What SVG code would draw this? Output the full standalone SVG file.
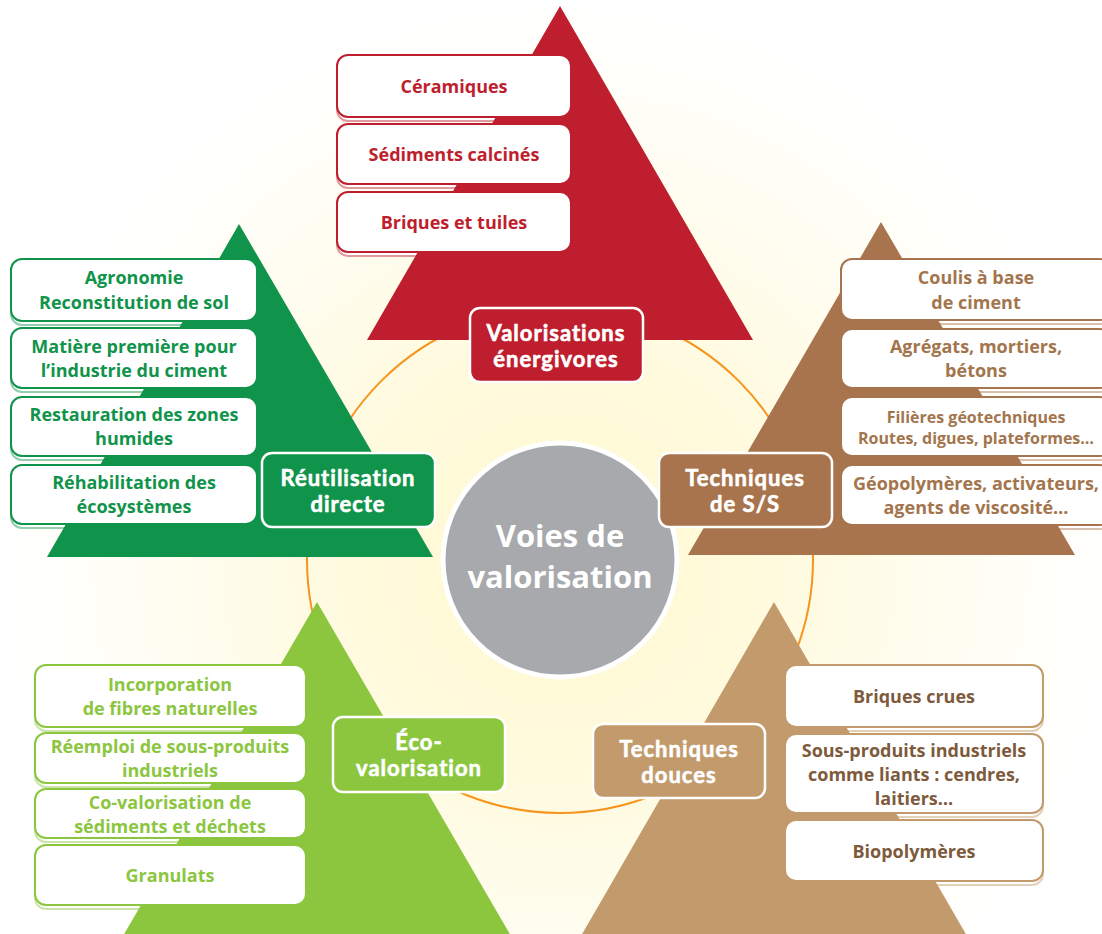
<svg xmlns="http://www.w3.org/2000/svg" width="1102" height="934" viewBox="0 0 1102 934">
<defs>
<radialGradient id="glow" cx="560" cy="560" r="560" gradientUnits="userSpaceOnUse">
<stop offset="0" stop-color="#FFF8CF"/>
<stop offset="0.35" stop-color="#FFFADC"/>
<stop offset="0.7" stop-color="#FFFDF1"/>
<stop offset="1" stop-color="#FFFFFF"/>
</radialGradient>
<style>
text{font-family:"Open Sans","Noto Sans","Liberation Sans",sans-serif;font-weight:700;text-anchor:middle}
.box{fill:#fff;stroke-width:2}
.shadow{fill:#fff;stroke-width:2;stroke-opacity:0.45}
.lbl{stroke:#fff;stroke-width:2.5}
.t{font-size:18px}
.ts{font-size:16px}
.lt{font-family:Lato,"Open Sans","Liberation Sans",sans-serif;font-size:22px;letter-spacing:1px;fill:#fff;stroke:#fff;stroke-width:0.6}
.red{stroke:#BE1E2D}.redf{fill:#BE1E2D}
.grn{stroke:#10934A}.grnf{fill:#10934A}
.brn{stroke:#A8744D}.brnf{fill:#A8744D}
.brnt{fill:#A3754D}
.lgr{stroke:#8CC63F}.lgrf{fill:#8CC63F}
.tan{stroke:#C29A6C}.tanf{fill:#C29A6C}
.tant{fill:#7E5A3C}
</style>
</defs>
<rect id="background" x="0" y="0" width="1102" height="934" fill="url(#glow)"/>
<g id="connectors">
<circle cx="560" cy="560" r="253" fill="none" stroke="#F7941D" stroke-width="2"/>
</g>
<g id="center">
<circle cx="560" cy="560" r="117" fill="#A7A9AC" stroke="#fff" stroke-width="5"/>
<text style="font-size:31px;fill:#fff"><tspan x="560" y="547">Voies de</tspan><tspan x="560" y="588">valorisation</tspan></text>
</g>
<g id="valorisations-energivores">
<rect class="shadow red" x="337" y="59" width="234" height="62" rx="11"/>
<rect class="shadow red" x="337" y="128" width="234" height="60" rx="11"/>
<rect class="shadow red" x="337" y="196" width="234" height="60" rx="11"/>
<polygon class="redf" points="560,6 753,340 367,340"/>
<g id="ceramiques"><rect class="box red" x="337" y="55" width="234" height="62" rx="11"/><text class="t redf" x="454" y="93">Céramiques</text></g>
<g id="sediments-calcines"><rect class="box red" x="337" y="124" width="234" height="60" rx="11"/><text class="t redf" x="454" y="161">Sédiments calcinés</text></g>
<g id="briques-tuiles"><rect class="box red" x="337" y="192" width="234" height="60" rx="11"/><text class="t redf" x="454" y="229">Briques et tuiles</text></g>
<g id="label-energivores"><rect class="lbl redf" x="470" y="308" width="173" height="74" rx="10"/><text class="lt"><tspan x="556" y="341">Valorisations</tspan><tspan x="556" y="367">énergivores</tspan></text></g>
</g>
<g id="reutilisation-directe">
<rect class="shadow grn" x="11" y="263" width="246" height="62" rx="11"/>
<rect class="shadow grn" x="11" y="332" width="246" height="60" rx="11"/>
<rect class="shadow grn" x="11" y="401" width="246" height="59" rx="11"/>
<rect class="shadow grn" x="11" y="469" width="246" height="59" rx="11"/>
<polygon class="grnf" points="239,224 433,557 47,557"/>
<g id="agronomie"><rect class="box grn" x="11" y="259" width="246" height="62" rx="11"/><text class="t grnf"><tspan x="134" y="284">Agronomie</tspan><tspan x="134" y="309">Reconstitution de sol</tspan></text></g>
<g id="matiere-premiere"><rect class="box grn" x="11" y="328" width="246" height="60" rx="11"/><text class="t grnf"><tspan x="134" y="353">Matière première pour</tspan><tspan x="134" y="377">l’industrie du ciment</tspan></text></g>
<g id="zones-humides"><rect class="box grn" x="11" y="397" width="246" height="59" rx="11"/><text class="t grnf"><tspan x="134" y="421">Restauration des zones</tspan><tspan x="134" y="445">humides</tspan></text></g>
<g id="ecosystemes"><rect class="box grn" x="11" y="465" width="246" height="59" rx="11"/><text class="t grnf"><tspan x="134" y="489">Réhabilitation des</tspan><tspan x="134" y="513">écosystèmes</tspan></text></g>
<g id="label-reutilisation"><rect class="lbl grnf" x="262" y="453" width="173" height="74" rx="10"/><text class="lt"><tspan x="348" y="486">Réutilisation</tspan><tspan x="348" y="512">directe</tspan></text></g>
</g>
<g id="techniques-ss">
<rect class="shadow brn" x="841" y="263" width="270" height="61" rx="11"/>
<rect class="shadow brn" x="841" y="333" width="270" height="59" rx="11"/>
<rect class="shadow brn" x="841" y="401" width="270" height="59" rx="11"/>
<rect class="shadow brn" x="841" y="469" width="270" height="60" rx="11"/>
<polygon class="brnf" points="881,222 1075,555 688,555"/>
<g id="coulis"><rect class="box brn" x="841" y="259" width="270" height="61" rx="11"/><text class="t brnt"><tspan x="976" y="284">Coulis à base</tspan><tspan x="976" y="309">de ciment</tspan></text></g>
<g id="agregats"><rect class="box brn" x="841" y="329" width="270" height="59" rx="11"/><text class="t brnt"><tspan x="976" y="353">Agrégats, mortiers,</tspan><tspan x="976" y="377">bétons</tspan></text></g>
<g id="filieres"><rect class="box brn" x="841" y="397" width="270" height="59" rx="11"/><text class="ts brnt"><tspan x="976" y="423">Filières géotechniques</tspan><tspan x="976" y="444">Routes, digues, plateformes…</tspan></text></g>
<g id="geopolymeres"><rect class="box brn" x="841" y="465" width="270" height="60" rx="11"/><text class="t brnt"><tspan x="976" y="490">Géopolymères, activateurs,</tspan><tspan x="976" y="514">agents de viscosité…</tspan></text></g>
<g id="label-ss"><rect class="lbl brnf" x="659" y="453" width="173" height="74" rx="10"/><text class="lt"><tspan x="745" y="486">Techniques</tspan><tspan x="745" y="512">de S/S</tspan></text></g>
</g>
<g id="eco-valorisation">
<rect class="shadow lgr" x="35" y="669" width="271" height="62" rx="11"/>
<rect class="shadow lgr" x="35" y="737" width="271" height="50" rx="11"/>
<rect class="shadow lgr" x="35" y="793" width="271" height="49" rx="11"/>
<rect class="shadow lgr" x="35" y="849" width="271" height="60" rx="11"/>
<polygon class="lgrf" points="317,602 511,936 123,936"/>
<g id="fibres"><rect class="box lgr" x="35" y="665" width="271" height="62" rx="11"/><text class="t lgrf"><tspan x="170" y="691">Incorporation</tspan><tspan x="170" y="715">de fibres naturelles</tspan></text></g>
<g id="reemploi"><rect class="box lgr" x="35" y="733" width="271" height="50" rx="11"/><text class="t lgrf"><tspan x="170" y="753">Réemploi de sous-produits</tspan><tspan x="170" y="777">industriels</tspan></text></g>
<g id="co-valorisation"><rect class="box lgr" x="35" y="789" width="271" height="49" rx="11"/><text class="t lgrf"><tspan x="170" y="809">Co-valorisation de</tspan><tspan x="170" y="833">sédiments et déchets</tspan></text></g>
<g id="granulats"><rect class="box lgr" x="35" y="845" width="271" height="60" rx="11"/><text class="t lgrf" x="170" y="882">Granulats</text></g>
<g id="label-eco"><rect class="lbl lgrf" x="333" y="717" width="172" height="75" rx="10"/><text class="lt"><tspan x="419" y="750">Éco-</tspan><tspan x="419" y="776">valorisation</tspan></text></g>
</g>
<g id="techniques-douces">
<rect class="shadow tan" x="785" y="669" width="258" height="62" rx="11"/>
<rect class="shadow tan" x="785" y="738" width="258" height="79" rx="11"/>
<rect class="shadow tan" x="785" y="824" width="258" height="61" rx="11"/>
<polygon class="tanf" points="774,602 967,936 581,936"/>
<g id="briques-crues"><rect class="box tan" x="785" y="665" width="258" height="62" rx="11"/><text class="t tant" x="914" y="703">Briques crues</text></g>
<g id="sous-produits"><rect class="box tan" x="785" y="734" width="258" height="79" rx="11"/><text class="t tant"><tspan x="914" y="757">Sous-produits industriels</tspan><tspan x="914" y="781">comme liants : cendres,</tspan><tspan x="914" y="805">laitiers…</tspan></text></g>
<g id="biopolymeres"><rect class="box tan" x="785" y="820" width="258" height="61" rx="11"/><text class="t tant" x="914" y="858">Biopolymères</text></g>
<g id="label-douces"><rect class="lbl tanf" x="593" y="724" width="172" height="74" rx="10"/><text class="lt"><tspan x="679" y="757">Techniques</tspan><tspan x="679" y="783">douces</tspan></text></g>
</g>
</svg>
